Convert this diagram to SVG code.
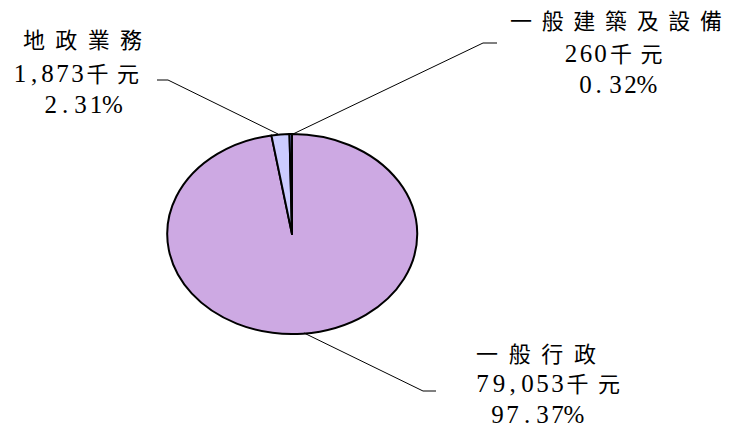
<svg xmlns="http://www.w3.org/2000/svg" width="729" height="435" viewBox="0 0 729 435">
<style>
.slice{stroke:#000;stroke-width:2;stroke-linejoin:round}
.num{font-family:"Liberation Serif","Noto Sans CJK TC",serif;font-size:25px;fill:#000;text-anchor:middle}
.cjk{font-family:"Noto Sans CJK TC","Liberation Serif",sans-serif;font-size:22px;fill:#000;text-anchor:middle}
.lead{fill:none;stroke:#000;stroke-width:1}
</style>
<rect width="729" height="435" fill="#fff"/>
<g id="slice-general-admin">
<path class="slice" fill="#CDA9E3" d="M292,234 L292,134 A125,100 0 1,1 271.4,135.4 Z"/>
</g>
<g id="slice-land-admin">
<path class="slice" fill="#CCCCFF" d="M292,234 L271.4,135.4 A125,100 0 0,1 289.5,134 Z"/>
</g>
<g id="slice-buildings">
<path class="slice" fill="#9999FF" d="M292,234 L289.5,134 A125,100 0 0,1 292,134 Z"/>
</g>
<g id="connectors">
<polyline class="lead" points="157,80 168,80 278,134"/>
<polyline class="lead" points="497,43 483,43 293,134"/>
<polyline class="lead" points="304,333 423,391 436,391"/>
</g>
<g id="label-land-admin">
<text class="cjk" y="47.5" x="34 66.3 98.7 131">地政業務</text>
<text class="num" y="82" x="20 34 47.5 62.5 77.5">1,873<tspan class="cjk" x="97.5 128">千元</tspan></text>
<text class="num" y="113" x="50.8 65 80.5 96 112.5">2.31%</text>
</g>
<g id="label-buildings">
<text class="cjk" y="28.5" x="521 552.7 584.3 616 647.7 679.3 711">一般建築及設備</text>
<text class="num" y="62" x="571 586 600.5">260<tspan class="cjk" x="621 651.5">千元</tspan></text>
<text class="num" y="93" x="585.5 598.5 615.5 630.5 647">0.32%</text>
</g>
<g id="label-general-admin">
<text class="cjk" y="361.5" x="487 519.7 552.3 585">一般行政</text>
<text class="num" y="392" x="482.5 499 512.5 527.5 542.5 557.5">79,053<tspan class="cjk" x="577.5 609">千元</tspan></text>
<text class="num" y="423" x="497.5 512.5 527 542.5 557.5 574">97.37%</text>
</g>
</svg>
